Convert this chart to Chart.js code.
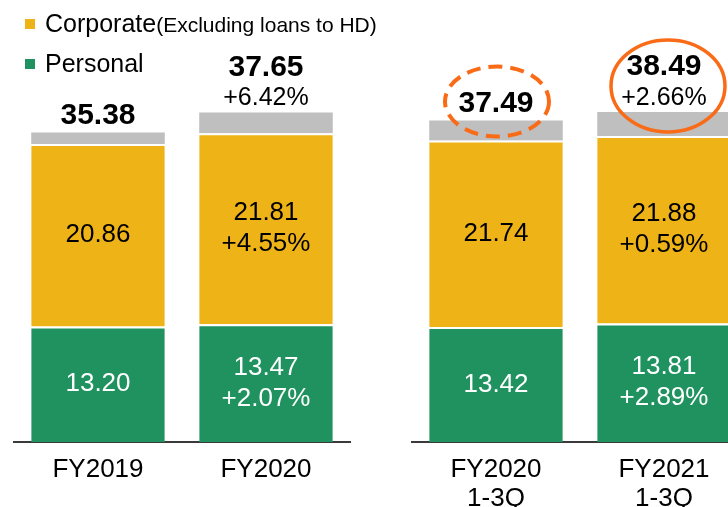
<!DOCTYPE html>
<html>
<head>
<meta charset="utf-8">
<script src="https://cdn.jsdelivr.net/npm/chart.js@4/dist/chart.umd.min.js"></script>
<style>
  html, body { margin: 0; padding: 0; background: #fff; }
  body { width: 728px; height: 507px; overflow: hidden; position: relative; font-family: Arial, "Liberation Sans", sans-serif; }
  canvas { position: absolute; top: 0; }
  #cLeft { left: 0; }
  #cRight { left: 398px; }
  .legend { position: absolute; left: 25px; z-index: 2; color: #000; white-space: nowrap; }
  .legend i { display: inline-block; width: 10px; height: 10px; margin-right: 10px; vertical-align: 3px; }
  .big { font-size: 25px; }
  .small { font-size: 21px; }
</style>
</head>
<body>
<div class="legend" style="top:9px"><i style="background:#EEB417"></i><span class="big">Corporate</span><span class="small">(Excluding loans to HD)</span></div>
<div class="legend" style="top:49px"><i style="background:#1F925F"></i><span class="big">Personal</span></div>
<canvas id="cLeft" width="364" height="507"></canvas>
<canvas id="cRight" width="364" height="507"></canvas>
<script>
  const categories = ["FY2019", "FY2020", ["FY2020", "1-3Q"], ["FY2021", "1-3Q"]];
  const personal = [13.20, 13.47, 13.42, 13.81];
  const corporate = [20.86, 21.81, 21.74, 21.88];
  const other = [1.32, 2.37, 2.33, 2.80];
  const totals = [35.38, 37.65, 37.49, 38.49];
  const personalChg = ["", "+2.07%", "", "+2.89%"];
  const corporateChg = ["", "+4.55%", "", "+0.59%"];
  const totalChg = ["", "+6.42%", "", "+2.66%"];

  const FONT = "Arial, 'Liberation Sans', sans-serif";
  const colors = { green: "#1F925F", gold: "#EEB417", grey: "#BFBFBF", orange: "#F96B17", axis: "#3A3A3A" };

  function drawLines(ctx, lines, x, cy, spacing) {
    const start = cy - (lines.length - 1) * spacing / 2;
    lines.forEach((t, i) => ctx.fillText(t, x, start + i * spacing));
  }

  const labelPlugin = {
    id: "segLabels",
    afterDatasetsDraw(chart) {
      const ctx = chart.ctx;
      const off = chart.options.plugins.segLabels.offset;
      const rings = chart.options.plugins.segLabels.rings || {};
      ctx.save();
      ctx.textAlign = "center";
      ctx.textBaseline = "middle";
      const pMeta = chart.getDatasetMeta(0), cMeta = chart.getDatasetMeta(1), oMeta = chart.getDatasetMeta(2);
      pMeta.data.forEach((el, i) => {
        const k = off + i;
        ctx.font = "26px " + FONT;
        ctx.fillStyle = "#fff";
        drawLines(ctx, [personal[k].toFixed(2), personalChg[k]].filter(Boolean), el.x, (el.y + el.base) / 2, 31);
        const ce = cMeta.data[i];
        ctx.fillStyle = "#000";
        drawLines(ctx, [corporate[k].toFixed(2), corporateChg[k]].filter(Boolean), ce.x, (ce.y + ce.base) / 2, 31);

        const top = oMeta.data[i].y;
        ctx.fillStyle = "#000";
        if (totalChg[k]) {
          const last = top - 14;
          ctx.font = "25px " + FONT;
          ctx.fillText(totalChg[k], el.x, last);
          ctx.font = "bold 30px " + FONT;
          ctx.fillText(totals[k].toFixed(2), el.x, last - 31);
        } else {
          ctx.font = "bold 30px " + FONT;
          ctx.fillText(totals[k].toFixed(2), el.x, top - 17);
        }

        const ring = rings[i];
        if (ring) {
          ctx.beginPath();
          ctx.ellipse(el.x + ring.dx, top - ring.dy, ring.rx, ring.ry, 0, 0, Math.PI * 2);
          ctx.strokeStyle = colors.orange;
          ctx.lineWidth = ring.w;
          ctx.setLineDash(ring.dash);
          ctx.stroke();
          ctx.setLineDash([]);
        }
      });
      ctx.restore();
    }
  };

  function makeChart(id, off, padTop, rings) {
    const idx = [off, off + 1];
    return new Chart(document.getElementById(id), {
      type: "bar",
      data: {
        labels: idx.map(i => categories[i]),
        datasets: [
          { label: "Personal", data: idx.map(i => personal[i]), backgroundColor: colors.green, borderColor: "#fff", borderWidth: { top: 2, bottom: 0, left: 0, right: 0 } },
          { label: "Corporate", data: idx.map(i => corporate[i]), backgroundColor: colors.gold, borderColor: "#fff", borderWidth: { top: 2, bottom: 0, left: 0, right: 0 } },
          { label: "Other", data: idx.map(i => other[i]), backgroundColor: colors.grey, borderWidth: 0 }
        ]
      },
      options: {
        responsive: false,
        animation: false,
        devicePixelRatio: 1,
        layout: { padding: { top: padTop, left: 14, right: 14, bottom: 0 } },
        datasets: { bar: { barPercentage: 0.795, categoryPercentage: 1 } },
        scales: {
          x: {
            stacked: true,
            grid: { drawOnChartArea: false, drawTicks: false },
            border: { display: true, color: colors.axis, width: 2 },
            ticks: { color: "#000", font: { family: FONT, size: 26, lineHeight: 1.12 }, padding: 13, maxRotation: 0, autoSkip: false },
            afterFit: s => { s.height = 65; }
          },
          y: { stacked: true, display: false, min: 0, max: 40 }
        },
        plugins: {
          legend: { display: false },
          tooltip: { enabled: false },
          segLabels: { offset: off, rings }
        }
      },
      plugins: [labelPlugin]
    });
  }

  makeChart("cLeft", 0, 92, {});
  makeChart("cRight", 2, 99, {
    0: { dx: 1, dy: 19, rx: 52, ry: 35, w: 4, dash: [14, 8] },
    1: { dx: 4, dy: 26, rx: 57, ry: 46, w: 3.5, dash: [] }
  });
</script>
</body>
</html>
